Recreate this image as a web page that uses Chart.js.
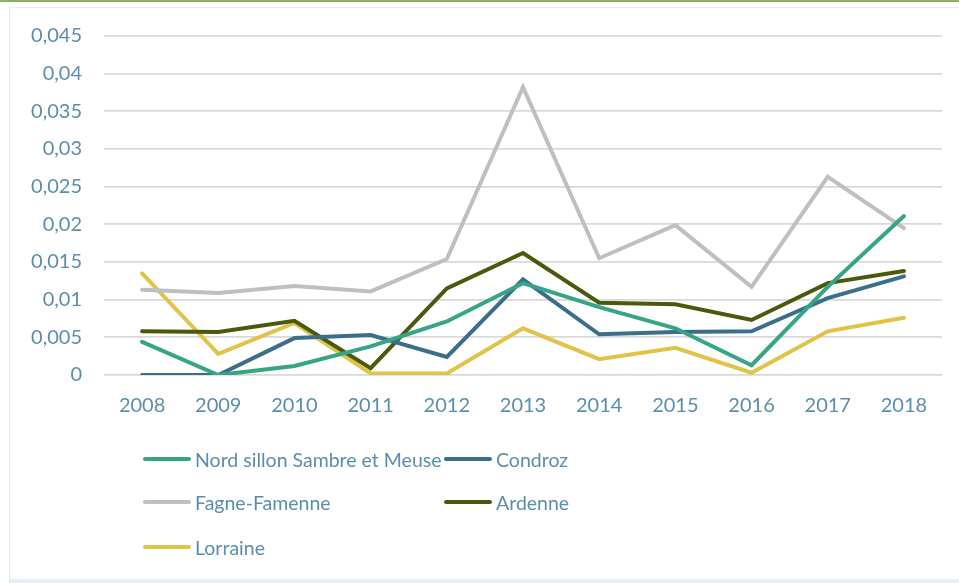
<!DOCTYPE html>
<html>
<head>
<meta charset="utf-8">
<script src="https://cdn.jsdelivr.net/npm/chart.js@4"></script>
<style>
  html, body { margin: 0; padding: 0; background: #ffffff; }
  #wrap { position: relative; width: 959px; height: 583px; overflow: hidden; font-family: Lato, "Open Sans", sans-serif; }
  #topbar { position: absolute; left: 0; top: 0; width: 959px; height: 2px; background: #8fb064; }
  #frameTop { position: absolute; left: 9px; top: 7px; width: 950px; height: 1px; background: #ececec; }
  #frameLeft { position: absolute; left: 9px; top: 7px; width: 1px; height: 574px; background: #e6e6e6; }
  #frameBottom { position: absolute; left: 9px; top: 579px; width: 950px; height: 4px; background: #e4eff8; }
  #cv { position: absolute; left: 0; top: 0; }
  .leg { position: absolute; display: flex; align-items: center; font-size: 19.5px; color: #5b8ea8; white-space: nowrap; }
  .leg .sw { width: 48px; height: 4px; border-radius: 2px; margin-right: 4px; }
</style>
</head>
<body>
<div id="wrap">
  <div id="topbar"></div>
  <div id="frameTop"></div>
  <div id="frameLeft"></div>
  <div id="frameBottom"></div>
  <canvas id="cv" width="959" height="583"></canvas>
  <div id="legend"></div>
</div>
<script>
const years = ['2008','2009','2010','2011','2012','2013','2014','2015','2016','2017','2018'];
const seriesNames = ['Nord sillon Sambre et Meuse', 'Condroz', 'Fagne-Famenne', 'Ardenne', 'Lorraine'];
const nordSillon   = [0.0044, 0.0000, 0.0012, 0.0038, 0.0071, 0.0122, 0.0090, 0.0062, 0.0013, 0.0117, 0.0211];
const condroz      = [0.0000, 0.0000, 0.0049, 0.0053, 0.0024, 0.0127, 0.0054, 0.0057, 0.0058, 0.0102, 0.0131];
const fagneFamenne = [0.0113, 0.0109, 0.0118, 0.0111, 0.0154, 0.0382, 0.0155, 0.0199, 0.0117, 0.0263, 0.0195];
const ardenne      = [0.0058, 0.0057, 0.0072, 0.0009, 0.0115, 0.0162, 0.0096, 0.0094, 0.0073, 0.0122, 0.0138];
const lorraine     = [0.0135, 0.0028, 0.0069, 0.0002, 0.0002, 0.0062, 0.0021, 0.0036, 0.0003, 0.0058, 0.0076];
const yTicks = [0, 0.005, 0.01, 0.015, 0.02, 0.025, 0.03, 0.035, 0.04, 0.045];

const colors = ['#35a586', '#3a6e8b', '#bfbfbf', '#4a5a0c', '#e2c349'];
const values = [nordSillon, condroz, fagneFamenne, ardenne, lorraine];

const datasets = seriesNames.map((name, i) => ({
  label: name,
  data: values[i],
  borderColor: colors[i],
  backgroundColor: colors[i],
  borderWidth: 4,
  pointRadius: 0,
  tension: 0,
  fill: false,
  borderCapStyle: 'round',
  borderJoinStyle: 'miter'
}));

const fontFamily = 'Lato, "Open Sans", sans-serif';
const tickColor = '#5b8ea8';

const chart = new Chart(document.getElementById('cv'), {
  type: 'line',
  data: { labels: years, datasets: datasets },
  options: {
    responsive: false,
    animation: false,
    devicePixelRatio: 1,
    layout: { padding: { left: 0, top: 36, right: 17, bottom: 158 } },
    plugins: { legend: { display: false }, tooltip: { enabled: false } },
    scales: {
      x: {
        offset: true,
        grid: { display: false, drawTicks: false },
        border: { display: false },
        ticks: { color: tickColor, font: { family: fontFamily, size: 20 }, padding: 19, maxRotation: 0 },
        afterFit: (s) => { s.height = 50; }
      },
      y: {
        min: 0,
        max: 0.045,
        afterBuildTicks: (s) => { s.ticks = yTicks.map(v => ({ value: v })); },
        grid: { color: '#d9d9d9', lineWidth: 1.7, drawTicks: false },
        border: { display: false },
        ticks: {
          color: tickColor,
          font: { family: fontFamily, size: 20 },
          padding: 22,
          callback: (v) => String(Math.round(v * 1000) / 1000).replace('.', ',')
        },
        afterFit: (s) => { s.width = 104; }
      }
    }
  }
});

// HTML legend generated from the chart's datasets
const legendPos = [
  { x: 143, y: 459 }, { x: 444, y: 459 },
  { x: 143, y: 502 }, { x: 444, y: 502 },
  { x: 143, y: 547 }
];
const legendEl = document.getElementById('legend');
chart.data.datasets.forEach((ds, i) => {
  const item = document.createElement('div');
  item.className = 'leg';
  item.style.left = legendPos[i].x + 'px';
  item.style.top = (legendPos[i].y - 12) + 'px';
  item.style.height = '24px';
  const sw = document.createElement('span');
  sw.className = 'sw';
  sw.style.background = ds.borderColor;
  const tx = document.createElement('span');
  tx.textContent = ds.label;
  item.appendChild(sw);
  item.appendChild(tx);
  legendEl.appendChild(item);
});
</script>
</body>
</html>
